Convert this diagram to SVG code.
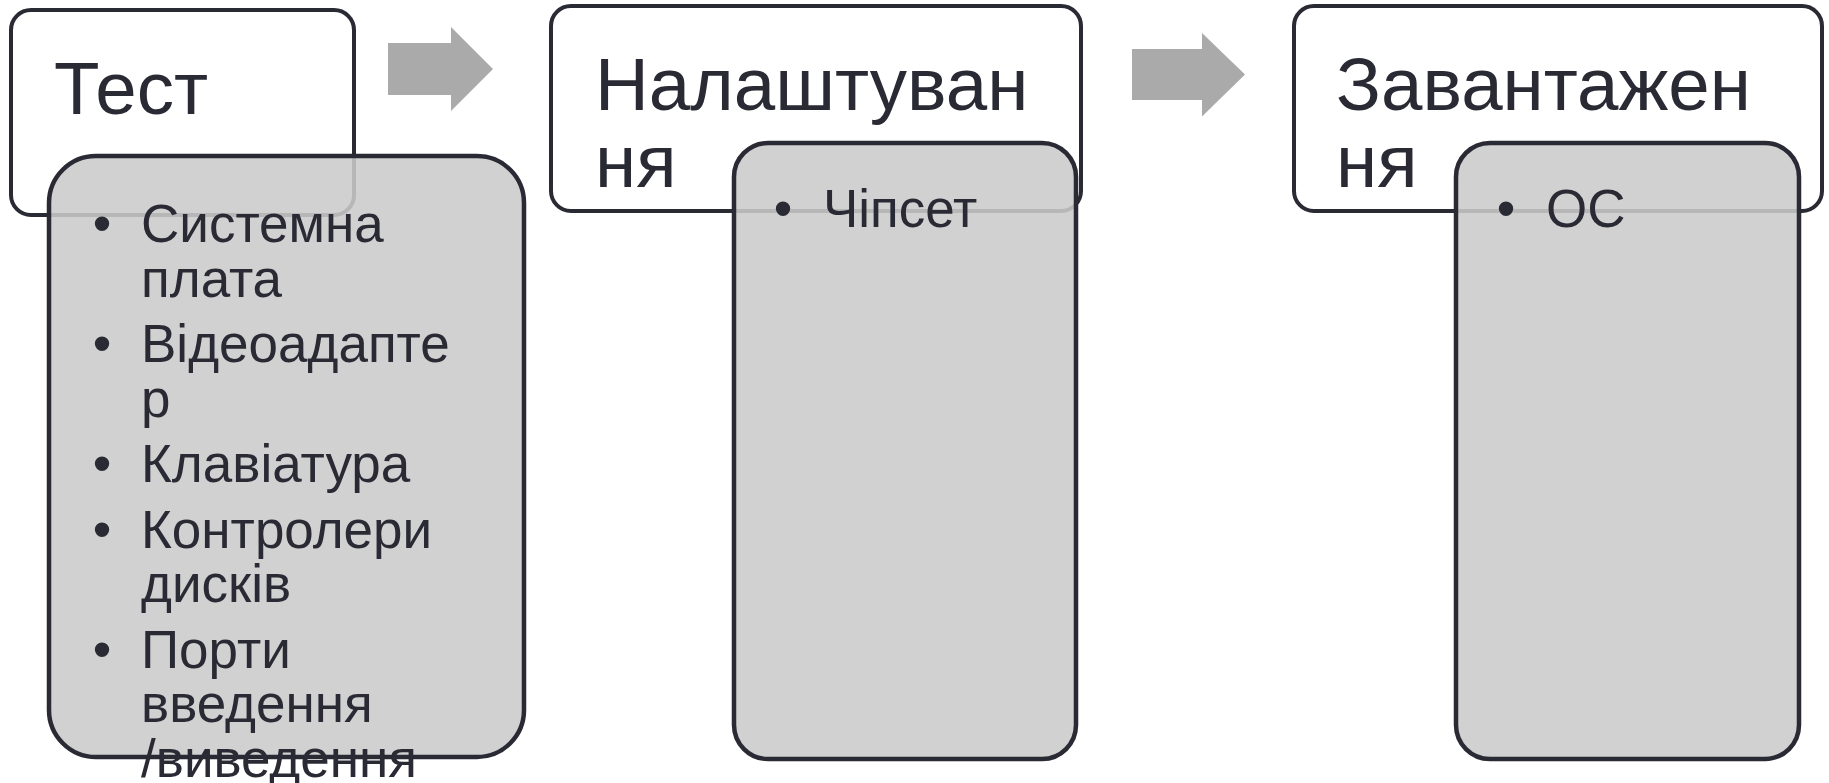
<svg xmlns="http://www.w3.org/2000/svg" width="1829" height="783" viewBox="0 0 1829 783">
<style>
.hdr{fill:#ffffff;stroke:#2a2a35;stroke-width:4}
.sub{fill:rgb(203,203,203);fill-opacity:0.88;stroke:#2a2a35;stroke-width:4.5}
.arrow{fill:#aaaaaa;stroke:none}
.ht{font-family:"Liberation Sans",Arial,sans-serif;font-size:74.5px;fill:#2a2a35}
.lt{font-family:"Liberation Sans",Arial,sans-serif;font-size:53px;fill:#2a2a35}
.bl{font-family:"Liberation Sans",Arial,sans-serif;font-size:53px;fill:#2a2a35;text-anchor:middle}
</style>
<rect width="1829" height="783" fill="#ffffff"/>
<g id="test-header">
<rect class="hdr" x="11" y="10" width="343" height="205" rx="20"/>
<text class="ht" x="54" y="114">Тест</text>
</g>
<g id="setup-header">
<rect class="hdr" x="551" y="6" width="530" height="205" rx="20"/>
<text class="ht" x="595" y="110">Налаштуван</text>
<text class="ht" x="595" y="187">ня</text>
</g>
<g id="boot-header">
<rect class="hdr" x="1294" y="6" width="528" height="205" rx="20"/>
<text class="ht" x="1336" y="110">Завантажен</text>
<text class="ht" x="1336" y="187">ня</text>
</g>
<g id="connectors">
<polygon class="arrow" points="388,43 451,43 451,27 493,69 451,111 451,95 388,95"/>
<polygon class="arrow" points="1132,49 1202,49 1202,33 1245,74.5 1202,116.5 1202,100 1132,100"/>
</g>
<g id="test-items">
<rect class="sub" x="49" y="156" width="475" height="601" rx="47"/>
<text class="bl" x="102" y="242">•</text>
<text class="lt" x="141" y="242">Системна</text>
<text class="lt" x="141" y="296.5">плата</text>
<text class="bl" x="102" y="362">•</text>
<text class="lt" x="141" y="362">Відеоадапте</text>
<text class="lt" x="141" y="416.5">р</text>
<text class="bl" x="102" y="482">•</text>
<text class="lt" x="141" y="482">Клавіатура</text>
<text class="bl" x="102" y="547.5">•</text>
<text class="lt" x="141" y="547.5">Контролери</text>
<text class="lt" x="141" y="602">дисків</text>
<text class="bl" x="102" y="667.5">•</text>
<text class="lt" x="141" y="667.5">Порти</text>
<text class="lt" x="141" y="722">введення</text>
<text class="lt" x="141" y="776.5">/виведення</text>
</g>
<g id="setup-items">
<rect class="sub" x="734" y="143" width="342" height="616" rx="34"/>
<text class="bl" x="783" y="227">•</text>
<text class="lt" x="823" y="227">Чіпсет</text>
</g>
<g id="boot-items">
<rect class="sub" x="1456" y="143" width="343" height="616" rx="34"/>
<text class="bl" x="1506" y="227">•</text>
<text class="lt" x="1546" y="227">ОС</text>
</g>
</svg>
